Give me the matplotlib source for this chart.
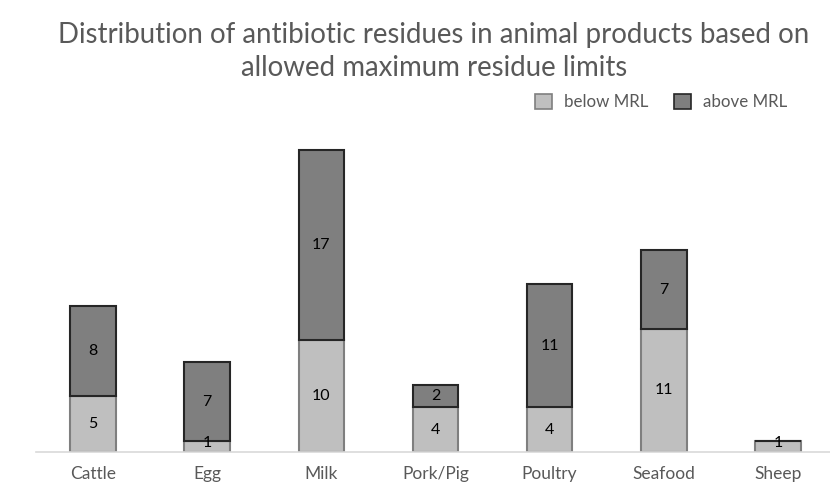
import matplotlib
matplotlib.use("Agg")
import matplotlib.pyplot as plt
from matplotlib.patches import Patch

categories = ["Cattle", "Egg", "Milk", "Pork/Pig", "Poultry", "Seafood", "Sheep"]
below_mrl = [5, 1, 10, 4, 4, 11, 1]
above_mrl = [8, 7, 17, 2, 11, 7, 0]

plt.rcParams['font.family'] = ['Lato', 'DejaVu Sans']

fig = plt.figure(figsize=(8.3, 4.84), dpi=100)
ax = fig.add_axes([36 / 830, 32 / 484, 799 / 830, 336 / 484])

x = range(len(categories))
w = 0.40
light, light_edge = "#bfbfbf", "#7f7f7f"
dark, dark_edge = "#7f7f7f", "#262626"

ax.bar(x, below_mrl, width=w, color=light, edgecolor=light_edge, linewidth=1.5, zorder=2)
ax.bar(x, above_mrl, width=w, bottom=below_mrl, color=dark, edgecolor=dark_edge,
       linewidth=1.5, zorder=3)

for i, (b, a) in enumerate(zip(below_mrl, above_mrl)):
    if b:
        ax.text(i, b / 2 + (0.3 if b == 1 else 0), str(b), ha="center", va="center",
                fontsize=11.5, color="#000000", zorder=4)
    if a:
        ax.text(i, b + a / 2, str(a), ha="center", va="center", fontsize=11.5,
                color="#000000", zorder=4)

ax.set_xlim(-0.5, 6.5)
ax.set_ylim(0, 30)
ax.set_yticks([])
ax.set_xticks(list(x))
ax.set_xticklabels(categories, fontsize=12.5, color="#595959")
ax.tick_params(axis="x", length=0, pad=10)
for s in ["top", "right", "left"]:
    ax.spines[s].set_visible(False)
ax.spines["bottom"].set_color("#d9d9d9")
ax.spines["bottom"].set_linewidth(1.2)

fig.text(434 / 830, 1 - 35 / 484,
         "Distribution of antibiotic residues in animal products based on",
         ha="center", va="center", fontsize=19.9, color="#595959")
fig.text(434 / 830, 1 - 68 / 484, "allowed maximum residue limits",
         ha="center", va="center", fontsize=19.9, color="#595959")

handles = [Patch(facecolor=light, edgecolor=light_edge, linewidth=1.2, label="below MRL"),
           Patch(facecolor=dark, edgecolor=dark_edge, linewidth=1.2, label="above MRL")]
fig.legend(handles=handles, loc="center", bbox_to_anchor=(661 / 830, 1 - 102 / 484),
           ncol=2, frameon=False, fontsize=12.2, labelcolor="#595959",
           handlelength=1.0, handleheight=1.0, handletextpad=0.7, columnspacing=1.5)

fig.savefig("out.png", dpi=100)
